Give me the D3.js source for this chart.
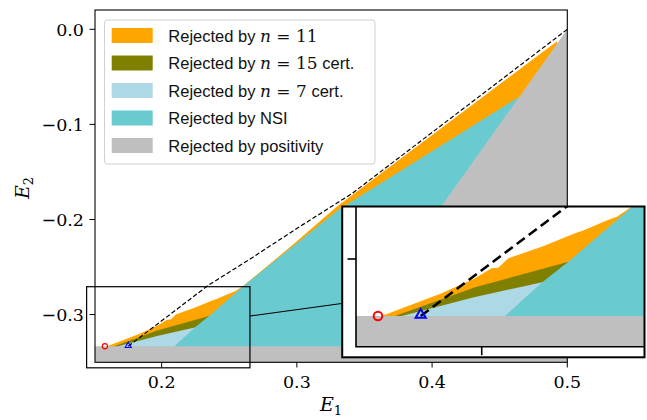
<!DOCTYPE html>
<html><head><meta charset="utf-8">
<script src="https://cdn.jsdelivr.net/npm/d3@7"></script>
<style>body{margin:0;background:#fff} svg{display:block}</style>
</head><body><svg id="c" width="647" height="420"></svg>
<script>
// ---------- data ----------
const xTicks = [0.2, 0.3, 0.4, 0.5];
const yTicks = [0.0, -0.1, -0.2, -0.3];
const xTickLabels = ["0.2", "0.3", "0.4", "0.5"];
const yTickLabels = ["0.0", "\u22120.1", "\u22120.2", "\u22120.3"];

// upper boundaries of each rejected region, [E1, E2]
const n11Boundary = [[0.1595,-0.3333],[0.1838,-0.3201],[0.1973,-0.3113],[0.2040,-0.3054],[0.2067,-0.3051],
  [0.2108,-0.2996],[0.2243,-0.2928],[0.2378,-0.2850],[0.2411,-0.2833],[0.2506,-0.2775],[0.2547,-0.2753],
  [0.2604,-0.2697],[0.2950,-0.2290],[0.3294,-0.1867],[0.4925,-0.0125]];
const n15Boundary = [[0.1649,-0.3333],[0.1973,-0.3165],[0.2351,-0.3016]];
const n7Boundary  = [[0.1676,-0.3333],[0.1973,-0.3222],[0.2245,-0.3136]];
const nsiBoundary = [[0.2094,-0.3333],[0.2245,-0.3136],[0.2351,-0.3016],[0.2607,-0.2697],[0.3310,-0.1895],[0.4638,-0.0715]];
const positivityBoundary = [[0.13,-0.3333],[0.3333,-0.3333],[0.5,0.0]];
const dashedCurve = [[0.1753,-0.3333],[0.2345,-0.2692],[0.2678,-0.2394],[0.2999,-0.2095],[0.3405,-0.1730],[0.5,0.0]];
const redPoint = [0.158, -0.3333];
const bluePoint = [0.1753, -0.3333];
const zoomBox = [[0.1445,-0.356],[0.2653,-0.2707]];
const connector = [[0.2653,-0.3015],[0.3331,-0.2884]];
const insetXTicks = [0.2];
const insetYTicks = [-0.3];
const floorE2 = -0.4;

const legendItems = [
  {pre:"Rejected by ", n:"11", post:""},
  {pre:"Rejected by ", n:"15", post:" cert."},
  {pre:"Rejected by ", n:"7", post:" cert."},
  {pre:"Rejected by NSI"},
  {pre:"Rejected by positivity"}
];
const regionColors = ["#ffa500","#808000","#add8e6","#69cbd0","#bfbfbf"];
const regions = [n11Boundary, n15Boundary, n7Boundary, nsiBoundary, positivityBoundary];

// ---------- scales ----------
const svg = d3.select("#c");
const xM = d3.scaleLinear().domain([0.1507, 0.5]).range([95, 567.3]);
const yM = d3.scaleLinear().domain([-0.3502, 0.0203]).range([362.3, 10]);
const xI = d3.scaleLinear().domain([0.1491, 0.2657]).range([356, 644]);
const yI = d3.scaleLinear().domain([-0.3513, -0.2694]).range([346.7, 206.7]);

const serif = "'DejaVu Serif', serif";
const sans = "'Liberation Sans', Arial, sans-serif";

function closePoly(pts){
  const f = pts[0], l = pts[pts.length-1];
  return pts.concat([[l[0], floorE2],[f[0], floorE2]]);
}

function panel(id, x, y, s){
  const [x0,x1] = x.range(), [y1,y0] = y.range();
  svg.append("clipPath").attr("id", id).append("rect")
    .attr("x", x0).attr("y", y0).attr("width", x1-x0).attr("height", y1-y0);
  const g = svg.append("g").attr("clip-path", `url(#${id})`);
  const line = d3.line().x(d=>x(d[0])).y(d=>y(d[1]));
  regions.forEach((r,i)=>{
    g.append("path").attr("d", line(closePoly(r))+"Z").attr("fill", regionColors[i]);
  });
  g.append("path").attr("d", line(dashedCurve)).attr("fill","none")
    .attr("stroke","#000").attr("stroke-width", s.lw).attr("stroke-dasharray", s.dash);
  g.append("circle").attr("cx", x(redPoint[0])).attr("cy", y(redPoint[1])).attr("r", s.r)
    .attr("fill","none").attr("stroke","#ff0000").attr("stroke-width", s.mlw);
  g.append("path").attr("d", d3.symbol(d3.symbolTriangle, s.tri)())
    .attr("transform", `translate(${x(bluePoint[0])},${y(bluePoint[1])-s.triOff})`)
    .attr("fill","none").attr("stroke","#0000ff").attr("stroke-width", s.mlw);
  return g;
}

// ---------- main axes ----------
panel("clipMain", xM, yM, {lw:1.2, dash:"4.5,2.3", r:2.6, mlw:1.1, tri:16, triOff:0.5});
svg.append("rect").attr("x",95).attr("y",10).attr("width",567.3-95).attr("height",362.3-10)
  .attr("fill","none").attr("stroke","#000").attr("stroke-width",1.1);

xTicks.forEach((t,i)=>{
  svg.append("line").attr("x1",xM(t)).attr("x2",xM(t)).attr("y1",362.3).attr("y2",367.5)
    .attr("stroke","#000").attr("stroke-width",1);
  svg.append("text").attr("x",xM(t)).attr("y",388).attr("text-anchor","middle")
    .attr("font-family",serif).attr("font-size",17.5).text(xTickLabels[i]);
});
yTicks.forEach((t,i)=>{
  svg.append("line").attr("x1",89.5).attr("x2",95).attr("y1",yM(t)).attr("y2",yM(t))
    .attr("stroke","#000").attr("stroke-width",1);
  svg.append("text").attr("x",84).attr("y",yM(t)+6.3).attr("text-anchor","end")
    .attr("font-family",serif).attr("font-size",17.5).text(yTickLabels[i]);
});
// axis labels
const xl = svg.append("text").attr("x",331).attr("y",411).attr("text-anchor","middle")
  .attr("font-family",serif).attr("font-size",19);
xl.append("tspan").attr("font-style","italic").text("E");
xl.append("tspan").attr("font-size",13).attr("dy",4).text("1");
const yl = svg.append("text").attr("transform","translate(29,188) rotate(-90)").attr("text-anchor","middle")
  .attr("font-family",serif).attr("font-size",19);
yl.append("tspan").attr("font-style","italic").text("E");
yl.append("tspan").attr("font-size",13).attr("dy",4).text("2");

// zoom rectangle and connector
svg.append("rect").attr("x",xM(zoomBox[0][0])).attr("y",yM(zoomBox[1][1]))
  .attr("width",xM(zoomBox[1][0])-xM(zoomBox[0][0])).attr("height",yM(zoomBox[0][1])-yM(zoomBox[1][1]))
  .attr("fill","none").attr("stroke","#000").attr("stroke-width",1.2);
svg.append("line").attr("x1",xM(connector[0][0])).attr("y1",yM(connector[0][1]))
  .attr("x2",xM(connector[1][0])).attr("y2",yM(connector[1][1])).attr("stroke","#000").attr("stroke-width",1.1);

// ---------- legend ----------
const lg = svg.append("g");
lg.append("rect").attr("x",104.5).attr("y",20).attr("width",270.5).attr("height",144).attr("rx",3)
  .attr("fill","#fff").attr("fill-opacity",0.8).attr("stroke","#d0d0d0").attr("stroke-width",1);
legendItems.forEach((it,i)=>{
  const cy = 35.5 + i*27.5;
  lg.append("rect").attr("x",111.7).attr("y",cy-7.5).attr("width",41).attr("height",15).attr("fill",regionColors[i]);
  const t = lg.append("text").attr("x",168.3).attr("y",cy+6.3).attr("font-family",sans).attr("font-size",16.5).attr("fill","#111");
  t.append("tspan").text(it.pre);
  if(it.n){
    t.append("tspan").attr("font-family",serif).attr("font-style","italic").attr("font-size",17).text("n");
    t.append("tspan").attr("font-family",serif).attr("font-size",17).text(" = " + it.n);
    if(it.post) t.append("tspan").text(it.post);
  }
});

// ---------- inset ----------
svg.append("rect").attr("x",341.7).attr("y",206).attr("width",645-341.7).attr("height",357.3-206)
  .attr("fill","#fff").attr("stroke","none");
panel("clipInset", xI, yI, {lw:2.6, dash:"10,5", r:4.3, mlw:2, tri:45, triOff:1});
// inset spines
svg.append("path").attr("d",`M${xI.range()[0]},${yI.range()[1]}V${yI.range()[0]}H${xI.range()[1]}`)
  .attr("fill","none").attr("stroke","#000").attr("stroke-width",1.6);
insetXTicks.forEach(t=>{
  svg.append("line").attr("x1",xI(t)).attr("x2",xI(t)).attr("y1",yI.range()[0]).attr("y2",yI.range()[0]+8.5)
    .attr("stroke","#000").attr("stroke-width",1.6);
});
insetYTicks.forEach(t=>{
  svg.append("line").attr("x1",xI.range()[0]-8.5).attr("x2",xI.range()[0]).attr("y1",yI(t)).attr("y2",yI(t))
    .attr("stroke","#000").attr("stroke-width",1.6);
});
// inset outer frame
svg.append("rect").attr("x",342.2).attr("y",206.5).attr("width",645.5-342.2-1).attr("height",357.3-206.5)
  .attr("fill","none").attr("stroke","#000").attr("stroke-width",2);
</script>
</body></html>
